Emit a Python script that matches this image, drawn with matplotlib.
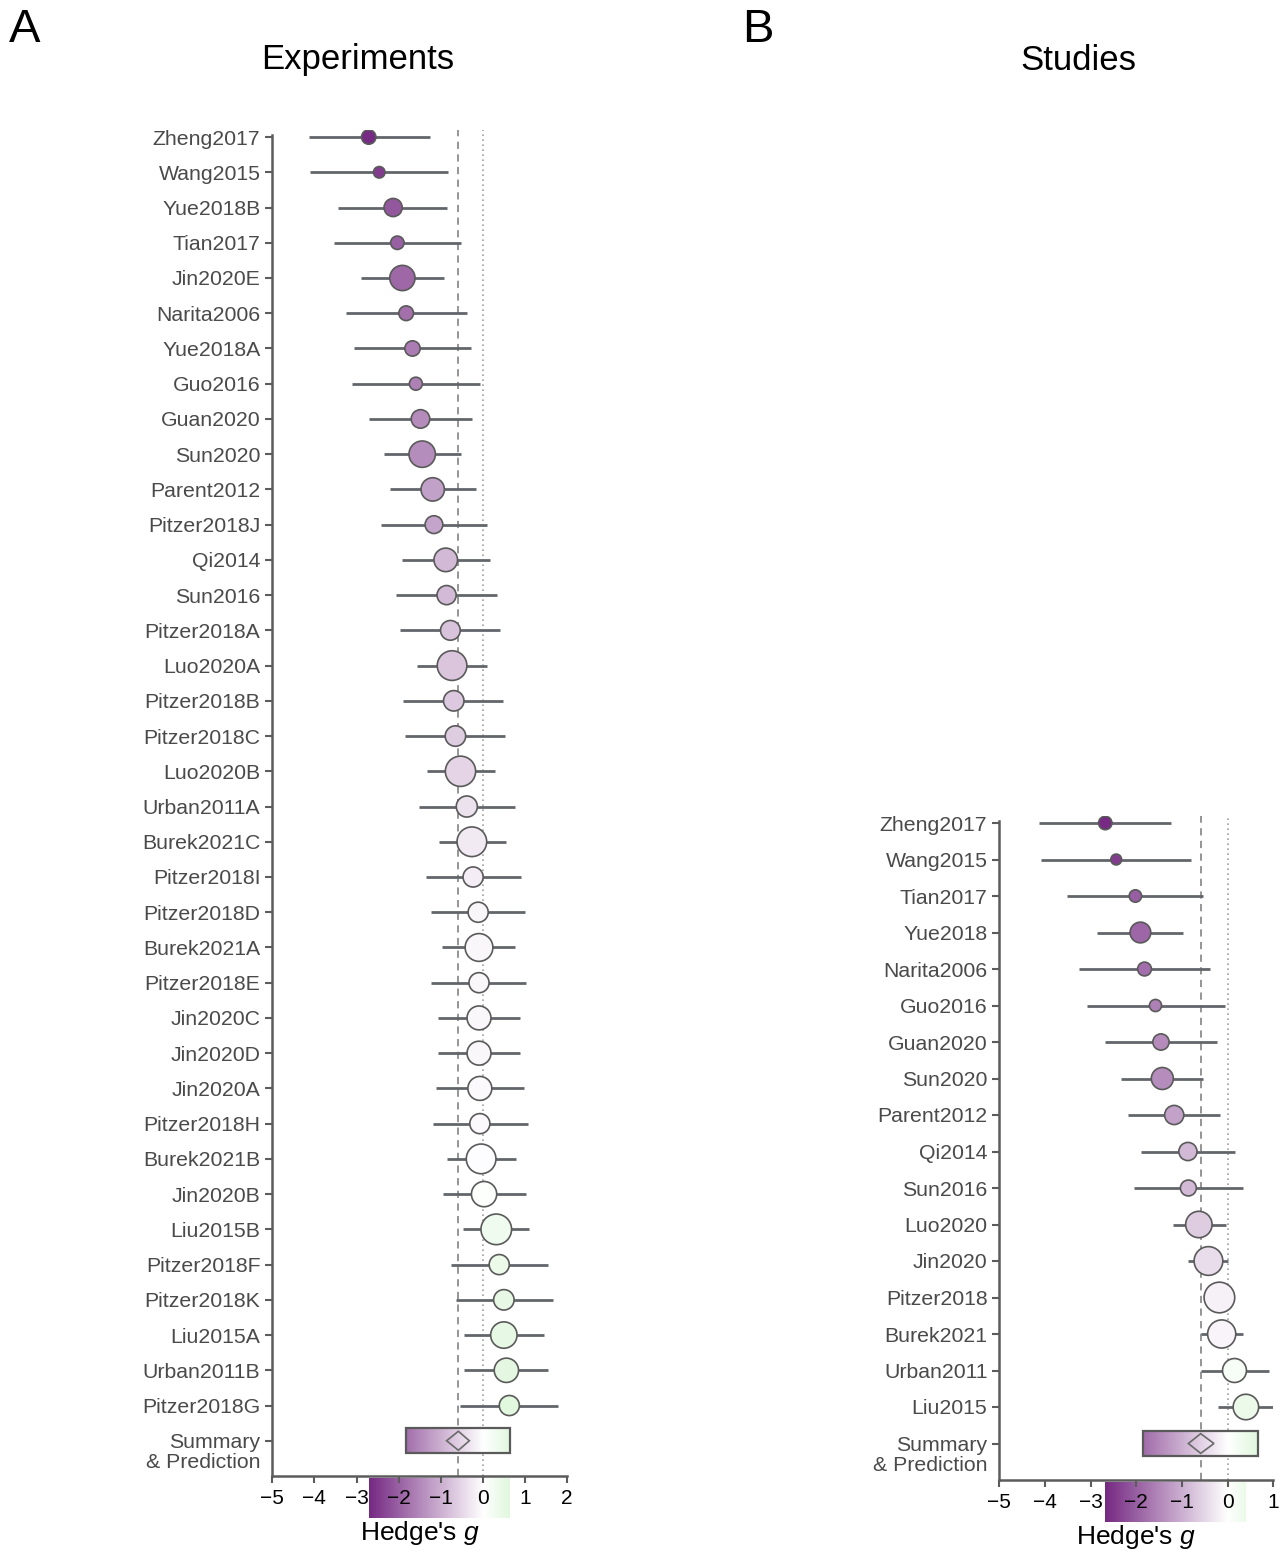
import numpy as np
import matplotlib
matplotlib.use("Agg")
import matplotlib.pyplot as plt
from matplotlib.colors import LinearSegmentedColormap, Normalize
from matplotlib.patches import Polygon, Rectangle
from matplotlib.transforms import ScaledTranslation

plt.rcParams['font.family'] = ['Liberation Sans', 'DejaVu Sans']
plt.rcParams['mathtext.fontset'] = 'custom'
plt.rcParams['mathtext.rm'] = 'Liberation Sans'
plt.rcParams['mathtext.it'] = 'Liberation Sans:italic'

# ---------------- Experiments (panel A) ----------------
exp_labels = ["Zheng2017", "Wang2015", "Yue2018B", "Tian2017", "Jin2020E", "Narita2006",
              "Yue2018A", "Guo2016", "Guan2020", "Sun2020", "Parent2012", "Pitzer2018J",
              "Qi2014", "Sun2016", "Pitzer2018A", "Luo2020A", "Pitzer2018B", "Pitzer2018C",
              "Luo2020B", "Urban2011A", "Burek2021C", "Pitzer2018I", "Pitzer2018D",
              "Burek2021A", "Pitzer2018E", "Jin2020C", "Jin2020D", "Jin2020A", "Pitzer2018H",
              "Burek2021B", "Jin2020B", "Liu2015B", "Pitzer2018F", "Pitzer2018K", "Liu2015A",
              "Urban2011B", "Pitzer2018G"]
exp_g = [-2.71, -2.46, -2.13, -2.03, -1.91, -1.82, -1.67, -1.59, -1.48, -1.44, -1.19, -1.16,
         -0.88, -0.86, -0.77, -0.73, -0.69, -0.65, -0.53, -0.38, -0.26, -0.23, -0.11, -0.09,
         -0.09, -0.09, -0.09, -0.07, -0.07, -0.04, 0.03, 0.32, 0.39, 0.50, 0.50, 0.56, 0.63]
exp_lo = [-4.14, -4.10, -3.43, -3.53, -2.90, -3.25, -3.06, -3.10, -2.70, -2.35, -2.20, -2.42,
          -1.91, -2.06, -1.97, -1.57, -1.89, -1.84, -1.33, -1.52, -1.04, -1.35, -1.23, -0.97,
          -1.23, -1.06, -1.06, -1.11, -1.18, -0.84, -0.94, -0.46, -0.75, -0.64, -0.44, -0.44, -0.54]
exp_hi = [-1.25, -0.82, -0.84, -0.52, -0.92, -0.38, -0.28, -0.07, -0.25, -0.52, -0.17, 0.10,
          0.16, 0.34, 0.41, 0.09, 0.49, 0.53, 0.29, 0.77, 0.55, 0.91, 1.00, 0.77,
          1.03, 0.89, 0.89, 0.98, 1.08, 0.78, 1.02, 1.10, 1.55, 1.66, 1.45, 1.56, 1.79]
exp_weight = [5.6, 3.6, 9.0, 4.9, 17.4, 5.9, 6.4, 4.6, 9.4, 19.0, 14.9, 8.6, 15.1, 10.0, 10.6,
              24.0, 11.4, 11.4, 25.0, 12.1, 24.0, 11.0, 11.0, 21.0, 11.0, 15.6, 15.6, 15.6,
              11.0, 24.0, 17.4, 25.6, 11.0, 11.4, 19.0, 16.1, 11.0]
exp_summary = -0.58
exp_ci = (-0.86, -0.32)
exp_pi = (-1.83, 0.65)

# ---------------- Studies (panel B) ----------------
std_labels = ["Zheng2017", "Wang2015", "Tian2017", "Yue2018", "Narita2006", "Guo2016",
              "Guan2020", "Sun2020", "Parent2012", "Qi2014", "Sun2016", "Luo2020", "Jin2020",
              "Pitzer2018", "Burek2021", "Urban2011", "Liu2015"]
std_g = [-2.68, -2.44, -2.02, -1.91, -1.82, -1.58, -1.46, -1.43, -1.17, -0.87, -0.86, -0.63,
         -0.42, -0.18, -0.13, 0.15, 0.40]
std_lo = [-4.13, -4.09, -3.51, -2.86, -3.25, -3.09, -2.68, -2.34, -2.18, -1.90, -2.05, -1.20,
          -0.86, -0.45, -0.59, -0.59, -0.20]
std_hi = [-1.25, -0.81, -0.53, -0.98, -0.39, -0.06, -0.24, -0.53, -0.17, 0.17, 0.34, -0.04,
          0.01, 0.05, 0.34, 0.90, 1.00]
std_weight = [4.9, 3.2, 4.2, 11.7, 5.2, 4.0, 7.2, 13.2, 10.0, 9.0, 6.9, 19.0, 22.5, 25.6,
              21.6, 15.6, 17.7]
std_summary = -0.59
std_ci = (-0.86, -0.30)
std_pi = (-1.85, 0.67)

# ---------------- styling ----------------
W, H = 1281, 1551
GREY = "#5c5c5c"
LINE = "#62666a"
EDGE = "#5a5a5a"
LABEL = "#4a4a4a"
cmap = LinearSegmentedColormap.from_list("pg", ["#762a83", "#ffffff", "#7ddf70"])

fig = plt.figure(figsize=(W / 100, H / 100), dpi=100)


def px_axes(x0, x1, ytop, ybot, **kw):
    return fig.add_axes([x0 / W, 1 - ybot / H, (x1 - x0) / W, (ybot - ytop) / H], **kw)


def forest(ax, labels, g, lo, hi, weight, est, ci, pi, xmin, xmax, ticks):
    g = np.asarray(g)
    n = len(labels)
    y = np.arange(n)
    vmax = np.max(np.abs(g))
    norm = Normalize(-vmax, vmax)

    ax.axvline(est, color="#8c8c8c", lw=1.3, ls=(0, (4, 3)), zorder=1)
    ax.axvline(0, color="#a0a0a0", lw=1.2, ls=(0, (1, 2)), zorder=1)
    ax.hlines(y, lo, hi, color=LINE, lw=2.0, zorder=2)
    ax.scatter(g, y, s=np.asarray(weight) * 19.0, c=cmap(norm(g)),
               edgecolors=EDGE, linewidths=1.2, zorder=3)

    # summary: prediction band with gradient and confidence diamond
    ys = n
    hh = 0.35
    band = np.linspace(pi[0], pi[1], 256)[None, :]
    ax.imshow(band, cmap=cmap, norm=norm, extent=[pi[0], pi[1], ys + hh, ys - hh],
              aspect="auto", interpolation="bilinear", zorder=2)
    ax.add_patch(Rectangle((pi[0], ys - hh), pi[1] - pi[0], 2 * hh, fill=False,
                           ec=EDGE, lw=1.6, zorder=3))
    ax.add_patch(Polygon([[ci[0], ys], [est, ys - 0.27], [ci[1], ys], [est, ys + 0.27]],
                         closed=True, fill=False, ec="#6a6a6a", lw=1.2, zorder=4))

    ax.set_xlim(xmin, xmax)
    ax.set_ylim(n + 1, -0.2)
    ax.set_yticks(np.arange(n + 1))
    ax.set_yticklabels(list(labels) + [""])
    ax.set_xticks(ticks)
    ax.tick_params(axis="y", length=5, width=1.5, color=GREY, labelcolor=LABEL,
                   labelsize=15.3, pad=3.5)
    ax.tick_params(axis="x", length=5, width=1.5, color=GREY, labelcolor="black",
                   labelsize=15, pad=4)
    for side in ("top", "right"):
        ax.spines[side].set_visible(False)
    for side in ("left", "bottom"):
        ax.spines[side].set_linewidth(1.8)
        ax.spines[side].set_color(GREY)
    ax.spines["left"].set_bounds(n + 1, -0.05)
    ax.patch.set_facecolor("none")

    off = ScaledTranslation(-8.5 / 72, 5.5 / 72, fig.dpi_scale_trans)
    ax.text(0, ys, "Summary\n& Prediction", transform=ax.get_yaxis_transform() + off,
            ha="right", va="top", multialignment="right", linespacing=1.08,
            fontsize=15.3, color=LABEL)
    ax.set_xlabel("Hedge's $g$", fontsize=19, labelpad=8)

    # colour bar spanning the range of study effects, placed beneath the axis
    pos = ax.get_position()
    gmin, gmax = g.min(), g.max()
    cx0 = pos.x0 + (gmin - xmin) / (xmax - xmin) * pos.width
    cx1 = pos.x0 + (gmax - xmin) / (xmax - xmin) * pos.width
    ch = 40 / H
    cax = fig.add_axes([cx0, pos.y0 - ch - 1.5 / H, cx1 - cx0, ch], zorder=0)
    cax.imshow(np.linspace(gmin, gmax, 256)[None, :], cmap=cmap, norm=norm,
               aspect="auto", interpolation="bilinear", extent=[gmin, gmax, 0, 1])
    cax.axis("off")


axA = px_axes(272.3, 567.0, 130.0, 1476.0, zorder=1)
forest(axA, exp_labels, exp_g, exp_lo, exp_hi, exp_weight, exp_summary, exp_ci, exp_pi,
       -5, 2, np.arange(-5, 3))

axB = px_axes(999.3, 1273.3, 815.7, 1480.0, zorder=1)
forest(axB, std_labels, std_g, std_lo, std_hi, std_weight, std_summary, std_ci, std_pi,
       -5, 1, np.arange(-5, 2))

fig.text(358 / W, 1 - 60 / H, "Experiments", ha="center", va="center", fontsize=25)
fig.text(1078 / W, 1 - 60 / H, "Studies", ha="center", va="center", fontsize=25)
fig.text(9 / W, 1 - 30 / H, "A", ha="left", va="center", fontsize=34)
fig.text(742 / W, 1 - 30 / H, "B", ha="left", va="center", fontsize=34)

fig.savefig("out.png", dpi=100)
